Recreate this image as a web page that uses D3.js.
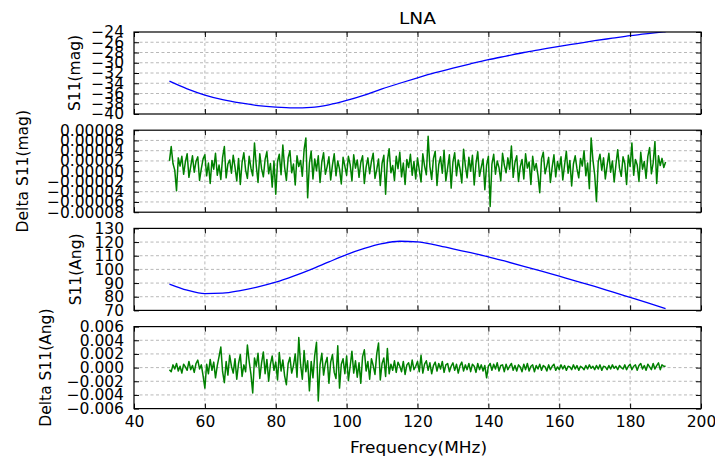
<!DOCTYPE html>
<html>
<head>
<meta charset="utf-8">
<script src="https://cdn.jsdelivr.net/npm/d3@7"></script>
<style>
  body { margin: 0; background: #fff; }
  svg { display: block; }
</style>
</head>
<body>
<div id="chart"></div>
<script>
const width = 715;
const height = 459;

// x axis (MHz)
const xTicks = [40, 60, 80, 100, 120, 140, 160, 180, 200];

// smooth curves, sampled every 5 MHz
const freqSmooth = [50, 55, 60, 65, 70, 75, 80, 85, 90, 95, 100, 105, 110, 115, 120,
  125, 130, 135, 140, 145, 150, 155, 160, 165, 170, 175, 180, 185, 190];
const s11Mag = [-33.6, -35.1, -36.3, -37.2, -37.85, -38.35, -38.65, -38.8, -38.7, -38.2,
  -37.35, -36.3, -35.1, -34.0, -32.95, -31.95, -31.05, -30.2, -29.4, -28.7,
  -28.0, -27.4, -26.8, -26.25, -25.7, -25.2, -24.7, -24.3, -23.95];
const s11Ang = [89.3, 84.8, 82.3, 82.6, 84.5, 87.2, 90.6, 95.0, 100.0, 105.5,
  110.8, 115.3, 118.8, 120.6, 120.2, 118.0, 115.0, 112.2, 109.2, 105.8,
  102.3, 98.7, 95.0, 91.3, 87.5, 83.5, 79.5, 75.5, 71.3];

// noise traces, every 0.5 MHz from 50 to 190
const freqNoise = d3.range(50, 190.25, 0.5);
// Delta S11(mag), in units of 1e-5
const deltaMagE5 = [
  2.0, 4.8, 1.5, 0.2, -3.8, 2.6, 1.0, 2.9, -0.6, 1.8, 3.4, -1.2, 0.9, 3.0, -0.2, 1.9, 2.8, -1.8, 0.5, 2.4,
  3.2, -0.9, 1.6, -2.4, 2.1, 0.4, 3.5, -0.8, 1.2, -1.6, 2.7, 4.8, -1.3, 1.4, 2.2, -0.4, 3.1, 0.8, -1.9, 2.5,
  -2.6, 1.7, 3.6, 0.2, -1.4, 2.9, 0.6, -0.9, 5.5, 1.1, -2.2, 3.4, 0.5, -1.1, 2.3, 3.8, -0.5, 1.5, -3.1, 2.0,
  -4.5, 1.9, 3.3, -0.7, 5.1, 0.8, -1.8, 2.6, 4.0, -0.3, 1.4, -2.7, 3.0, 0.9, 2.1, -1.0, 4.2, 6.5, -5.2, 1.6,
  3.9, -1.5, 2.4, 0.1, 3.0, -2.2, 1.8, 3.6, -0.6, 0.9, 2.8, -1.7, 1.2, 3.4, -0.9, 2.0, 0.4, -2.5, 2.7, 1.0,
  -0.8, 2.9, 1.3, -1.9, 3.2, 0.6, 2.2, -1.2, 1.7, 3.0, -2.4, 0.8, 2.6, -0.5, 1.9, 3.5, -1.4, 0.3, 2.4, -2.8,
  1.5, 3.1, -4.5, 2.0, 4.4, -0.3, 1.1, -1.8, 2.9, 0.5, 3.7, -1.1, 1.6, -2.6, 2.3, 0.7, 3.3, -0.8, 1.9, -1.5,
  2.6, 0.2, -2.1, 3.4, 1.0, -0.7, 6.8, 0.9, -1.6, 2.5, 3.9, -2.8, 1.3, 2.8, -0.4, 4.1, -1.9, 0.6, 3.2, -3.3,
  1.8, 3.6, -0.9, 2.2, 0.4, -2.3, 4.3, 1.1, -1.3, 2.7, 0.0, 3.1, -2.7, 1.5, 3.8, -1.0, 0.8, 2.4, -3.6, 1.2,
  2.9, -6.9, 1.4, 3.3, -0.6, 2.0, 0.7, -1.9, 3.5, 1.2, -0.3, 2.6, 0.4, 4.9, -1.2, 1.7, 3.0, -2.0, 0.9, 2.3,
  -1.5, 3.4, 0.6, 1.8, -2.6, 2.9, 0.2, 1.5, -0.8, -4.2, 2.4, 3.7, -0.5, 1.0, 2.7, -2.2, 0.8, 3.2, -1.1, 1.9,
  0.3, 2.8, -1.7, 1.2, 3.9, -0.4, 2.1, -2.9, 1.4, 3.0, 0.5, -1.3, 2.5, 1.0, 4.0, -0.9, 1.6, -3.4, 6.5, 2.2,
  -0.7, -5.9, 1.8, 3.3, 0.2, 2.6, -1.5, 1.1, 3.5, -0.2, 2.0, -2.1, 1.3, 4.2, 0.6, -1.0, 2.8, 1.5, -2.6, 3.1,
  0.9, 5.5, -0.8, 2.3, 1.2, -2.0, 3.7, 0.4, 1.9, -1.4, 2.9, 4.6, -0.5, 1.6, 5.8, -2.4, 3.0, 1.1, 2.5, 0.7,
  1.8,
];
// Delta S11(Ang), in units of 1e-3
const deltaAngE3 = [
  -0.3, -0.6, 0.4, -0.2, 0.6, -0.5, 0.2, -0.8, 0.5, 0.1, -0.4, 0.9, -0.3, 0.3, -0.7, 0.6, 1.1, -0.2, 0.4, -1.2,
  -3.0, 0.5, -0.9, 1.2, -0.4, 0.8, -1.5, 0.3, 1.6, 3.0, -0.6, -2.2, 0.9, -1.1, 1.8, 0.2, -0.8, 1.3, -1.7, 0.6,
  1.9, -1.3, 0.4, -0.6, 3.3, 0.9, -1.0, -3.7, 1.4, 0.2, 2.1, -1.6, 0.7, 2.3, -0.9, 1.2, -2.0, 0.5, 1.7, -0.4,
  0.8, -1.8, 2.2, -0.5, 1.1, -1.2, -2.5, 0.6, 1.5, -0.8, 0.3, 2.0, -1.4, 4.4, 0.5, -1.7, 2.5, -0.6, 1.0, -3.4,
  0.9, -1.5, 1.8, 3.7, -4.9, 0.4, 2.1, -1.1, 0.6, 1.5, -2.3, 0.8, 1.9, -0.7, -1.6, 3.2, -3.0, 0.5, 1.3, -0.9,
  1.7, -1.9, 0.2, 2.4, -0.8, 1.0, -1.4, 0.7, -2.3, 1.6, 2.6, -0.5, 0.9, -1.7, 1.3, 0.3, -1.0, 2.0, 3.6, -1.8,
  0.6, 1.4, -1.3, 2.8, -0.9, 0.5, -0.4, 1.0, -0.7, 0.8, 0.2, -0.6, 0.9, -1.0, 0.4, 0.7, -0.5, 1.1, -0.3, 0.2,
  0.9, -0.6, 1.8, -0.8, 0.5, 1.0, -0.4, 0.7, -0.9, 0.3, 0.8, -0.5, 0.6, -0.2, 0.9, -0.7, 0.4, 0.6, -0.6, 0.2,
  0.7, -0.4, 0.5, -0.8, 0.3, 0.8, -0.5, 0.4, -0.3, 0.6, -0.6, 0.5, 0.2, -0.7, 0.6, -0.3, 0.4, -0.5, 0.3, -1.5,
  0.2, 0.6, -0.4, 0.5, -0.2, 0.7, -0.5, 0.3, 0.4, -0.6, 0.5, -0.3, 0.2, 0.6, -0.4, 0.3, -0.5, 0.4, 0.1, -0.6,
  0.5, -0.3, 0.6, -0.5, 0.2, 0.4, -0.6, 0.3, -0.2, 0.5, -0.4, 0.3, 0.1, -0.5, 0.4, -0.3, 0.2, 0.5, -0.4, 0.1,
  -0.3, 0.4, -0.2, 0.3, -0.4, 0.2, 0.1, -0.3, 0.4, -0.2, 0.3, -0.4, 0.2, 0.0, -0.3, 0.3, -0.2, 0.4, -0.1, 0.2,
  -0.3, 0.3, -0.2, 0.4, -0.4, 0.2, 0.1, -0.3, 0.3, -0.2, 0.4, -0.1, 0.2, -0.3, 0.3, 0.0, -0.2, 0.4, -0.3, 0.2,
  0.5, -0.3, 0.2, 0.4, -0.4, 0.3, 0.6, -0.2, 0.3, -0.4, 0.5, 0.1, -0.3, 0.6, -0.2, 0.3, 0.7, -0.3, 0.4, 0.2,
  0.2,
];

// y ticks per panel
const magTicks = [-40, -38, -36, -34, -32, -30, -28, -26, -24];
const dMagTicks = [-0.00008, -0.00006, -0.00004, -0.00002, 0, 0.00002, 0.00004, 0.00006, 0.00008];
const angTicks = [70, 80, 90, 100, 110, 120, 130];
const dAngTicks = [-0.006, -0.004, -0.002, 0, 0.002, 0.004, 0.006];

const fontFamily = "DejaVu Sans, Bitstream Vera Sans, sans-serif";
const left = 134, right = 701;
const plotTop = 32, panelH = 82, gap = 16.2;

const x = d3.scaleLinear().domain([40, 200]).range([left, right]);

const panels = [
  { label: "S11(mag)", labelX: 75, ticks: magTicks, fmt: d3.format("d"), color: "#0000ff",
    xs: freqSmooth, ys: s11Mag, curve: d3.curveMonotoneX },
  { label: "Delta S11(mag)", labelX: 23, ticks: dMagTicks, fmt: d3.format(".5f"), color: "#008000",
    xs: freqNoise, ys: deltaMagE5.map((v) => v * 1e-5), curve: d3.curveLinear },
  { label: "S11(Ang)", labelX: 75.5, ticks: angTicks, fmt: d3.format("d"), color: "#0000ff",
    xs: freqSmooth, ys: s11Ang, curve: d3.curveMonotoneX },
  { label: "Delta S11(Ang)", labelX: 45.5, ticks: dAngTicks, fmt: d3.format(".3f"), color: "#008000",
    xs: freqNoise, ys: deltaAngE3.map((v) => v * 1e-3), curve: d3.curveLinear },
];

const svg = d3
  .select("#chart")
  .append("svg")
  .attr("width", width)
  .attr("height", height);

function styleAxis(g) {
  g.attr("font-family", fontFamily).attr("font-size", 15.5);
  g.select(".domain").remove();
  g.selectAll(".tick line").attr("stroke", "#000");
  g.selectAll(".tick text").attr("fill", "#000");
}

function drawPanel(p, i) {
  const top = plotTop + i * (panelH + gap);
  const bottom = top + panelH;
  const y = d3.scaleLinear().domain(d3.extent(p.ticks)).range([bottom, top]);

  svg
    .append("clipPath")
    .attr("id", `clip${i}`)
    .append("rect")
    .attr("x", left)
    .attr("y", top)
    .attr("width", right - left)
    .attr("height", panelH);

  // grid
  const grid = svg.append("g").attr("stroke", "#b0b0b0").attr("stroke-width", 0.9)
    .attr("stroke-dasharray", "3,2.5");
  xTicks.slice(1, -1).forEach((t) => {
    grid.append("line").attr("x1", x(t)).attr("x2", x(t)).attr("y1", top).attr("y2", bottom);
  });
  p.ticks.slice(1, -1).forEach((t) => {
    grid.append("line").attr("x1", left).attr("x2", right).attr("y1", y(t)).attr("y2", y(t));
  });

  // data line
  const line = d3.line().x((d) => x(d[0])).y((d) => y(d[1])).curve(p.curve);
  svg
    .append("path")
    .datum(p.xs.map((f, k) => [f, p.ys[k]]))
    .attr("clip-path", `url(#clip${i})`)
    .attr("fill", "none")
    .attr("stroke", p.color)
    .attr("stroke-width", p.curve === d3.curveLinear ? 1.5 : 1.3)
    .attr("stroke-linejoin", "round")
    .attr("d", line);

  // ticks on all four sides, pointing inward
  svg.append("g").attr("transform", `translate(${left},0)`)
    .call(d3.axisLeft(y).tickValues(p.ticks).tickFormat(p.fmt).tickSizeInner(-5).tickSizeOuter(0).tickPadding(10))
    .call(styleAxis);
  svg.append("g").attr("transform", `translate(${right},0)`)
    .call(d3.axisRight(y).tickValues(p.ticks).tickFormat("").tickSizeInner(-5).tickSizeOuter(0))
    .call(styleAxis);
  svg.append("g").attr("transform", `translate(0,${top})`)
    .call(d3.axisTop(x).tickValues(xTicks).tickFormat("").tickSizeInner(-5).tickSizeOuter(0))
    .call(styleAxis);
  const xb = d3.axisBottom(x).tickValues(xTicks).tickSizeInner(-5).tickSizeOuter(0).tickPadding(7.5);
  if (i < panels.length - 1) xb.tickFormat("");
  svg.append("g").attr("transform", `translate(0,${bottom})`).call(xb).call(styleAxis);

  // frame
  svg
    .append("rect")
    .attr("x", left)
    .attr("y", top)
    .attr("width", right - left)
    .attr("height", panelH)
    .attr("fill", "none")
    .attr("stroke", "#000")
    .attr("stroke-width", 1.2);

  // y label
  svg
    .append("text")
    .attr("transform", `translate(${p.labelX},${(top + bottom) / 2}) rotate(-90)`)
    .attr("text-anchor", "middle")
    .attr("dominant-baseline", "central")
    .attr("font-family", fontFamily)
    .attr("font-size", 15.5)
    .text(p.label);
}

panels.forEach(drawPanel);

// title and x label
svg
  .append("text")
  .attr("x", (left + right) / 2)
  .attr("y", 23.5)
  .attr("text-anchor", "middle")
  .attr("font-family", fontFamily)
  .attr("font-size", 15.5)
  .attr("textLength", 37)
  .attr("lengthAdjust", "spacingAndGlyphs")
  .text("LNA");

svg
  .append("text")
  .attr("x", (left + right) / 2 + 1)
  .attr("y", 453)
  .attr("text-anchor", "middle")
  .attr("font-family", fontFamily)
  .attr("font-size", 15.5)
  .attr("textLength", 137)
  .attr("lengthAdjust", "spacingAndGlyphs")
  .text("Frequency(MHz)");
</script>
</body>
</html>
